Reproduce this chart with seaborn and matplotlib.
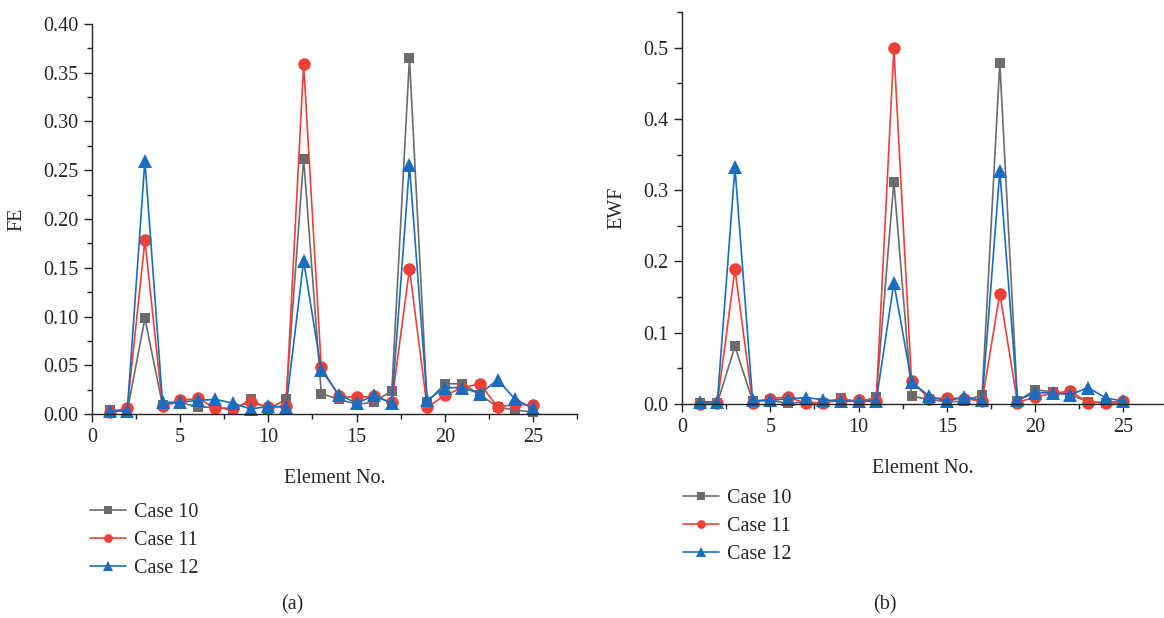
"""FE / EWF damage indices per element for cases 10-12."""
import numpy as np
import pandas as pd
import matplotlib
matplotlib.use("Agg")
import matplotlib.pyplot as plt
import seaborn as sns
from matplotlib.ticker import MultipleLocator

# element numbers
elements = list(range(1, 26))

# FE values, panel (a)
fe_case10 = [0.004, 0.003, 0.098, 0.009, 0.012, 0.007, 0.007, 0.004, 0.015, 0.005,
             0.015, 0.262, 0.021, 0.015, 0.010, 0.012, 0.024, 0.365, 0.012, 0.031,
             0.031, 0.020, 0.007, 0.004, 0.002]
fe_case11 = [0.002, 0.006, 0.178, 0.008, 0.014, 0.016, 0.006, 0.006, 0.012, 0.007,
             0.008, 0.359, 0.048, 0.018, 0.017, 0.018, 0.012, 0.149, 0.007, 0.019,
             0.027, 0.031, 0.007, 0.010, 0.009]
fe_case12 = [0.003, 0.003, 0.260, 0.012, 0.012, 0.014, 0.015, 0.011, 0.005, 0.008,
             0.007, 0.157, 0.045, 0.020, 0.011, 0.019, 0.011, 0.255, 0.014, 0.027,
             0.027, 0.021, 0.035, 0.015, 0.006]

# EWF values, panel (b)
ewf_case10 = [0.001, 0.001, 0.081, 0.004, 0.005, 0.001, 0.003, 0.001, 0.0085, 0.002,
              0.010, 0.312, 0.011, 0.0065, 0.003, 0.004, 0.013, 0.479, 0.004, 0.020,
              0.017, 0.013, 0.003, 0.002, 0.001]
ewf_case11 = [0.000, 0.001, 0.189, 0.002, 0.0075, 0.010, 0.001, 0.002, 0.005, 0.005,
              0.004, 0.499, 0.032, 0.0075, 0.0085, 0.0075, 0.004, 0.155, 0.002, 0.010,
              0.015, 0.018, 0.002, 0.002, 0.004]
ewf_case12 = [0.003, 0.003, 0.332, 0.005, 0.005, 0.0075, 0.009, 0.006, 0.004, 0.004,
              0.004, 0.170, 0.031, 0.011, 0.004, 0.010, 0.005, 0.327, 0.005, 0.016,
              0.0155, 0.013, 0.023, 0.0085, 0.004]

case_names = ["Case 10", "Case 11", "Case 12"]
colors = ["#6b6b6d", "#ef4036", "#1a6cbf"]
markers = ["s", "o", "^"]
msizes = [7.5, 9, 10.5]

sns.set_theme(style="ticks")
plt.rcParams["font.family"] = ["Liberation Serif", "DejaVu Serif"]
plt.rcParams["font.size"] = 14.5

fig = plt.figure(figsize=(11.64, 6.18), dpi=100)
ax_a = fig.add_axes([92 / 1164, 1 - 414 / 618, 485 / 1164, 390 / 618])
ax_b = fig.add_axes([682 / 1164, 1 - 404 / 618, 482 / 1164, 392 / 618])


def draw_panel(ax, series, ylabel, ylim, ymajor, yminor, xmax, yfmt):
    df = pd.DataFrame({"Element": elements * 3,
                       "value": sum(series, []),
                       "case": np.repeat(case_names, len(elements))})
    for name, c, m, ms in zip(case_names, colors, markers, msizes):
        sns.lineplot(data=df[df["case"] == name], x="Element", y="value", ax=ax,
                     color=c, marker=m, markersize=ms, markeredgewidth=0,
                     linewidth=1.2, label=name, clip_on=False)
    ax.set_xlim(0, xmax)
    ax.set_ylim(*ylim)
    ax.xaxis.set_major_locator(MultipleLocator(5))
    ax.xaxis.set_minor_locator(MultipleLocator(2.5))
    ax.yaxis.set_major_locator(MultipleLocator(ymajor))
    ax.yaxis.set_minor_locator(MultipleLocator(yminor))
    ax.yaxis.set_major_formatter(plt.FormatStrFormatter(yfmt))
    ax.tick_params(which="major", direction="out", length=6, width=1, labelsize=14.5,
                   color="#222222", pad=4)
    ax.tick_params(which="minor", direction="out", length=3.5, width=1, color="#222222")
    for s in ["top", "right"]:
        ax.spines[s].set_visible(False)
    for s in ["left", "bottom"]:
        ax.spines[s].set_linewidth(1)
        ax.spines[s].set_color("#222222")
    ax.set_xlabel("Element No.", fontsize=14.5, labelpad=16)
    ax.set_ylabel(ylabel, fontsize=14.5, labelpad=12)
    ax.get_legend().remove()


draw_panel(ax_a, [fe_case10, fe_case11, fe_case12], "FE", (0, 0.40), 0.05, 0.025,
           27.5, "%.2f")
draw_panel(ax_b, [ewf_case10, ewf_case11, ewf_case12], "EWF", (0, 0.55), 0.1, 0.05,
           27.3, "%.1f")

# legends below each panel
for ax, (lx, ly) in [(ax_a, (90, 503)), (ax_b, (683, 489))]:
    handles, labels = ax.get_legend_handles_labels()
    fig.legend(handles, labels, loc="upper left",
               bbox_to_anchor=(lx / 1164, 1 - ly / 618), frameon=False,
               fontsize=14.5, handlelength=1.8, handletextpad=0.4, markerscale=0.7,
               labelspacing=0.45, borderpad=0, borderaxespad=0)

fig.text(292 / 1164, 1 - 605 / 618, "(a)", ha="center", va="center", fontsize=14.5)
fig.text(885 / 1164, 1 - 605 / 618, "(b)", ha="center", va="center", fontsize=14.5)

fig.savefig("out.png", dpi=100)
